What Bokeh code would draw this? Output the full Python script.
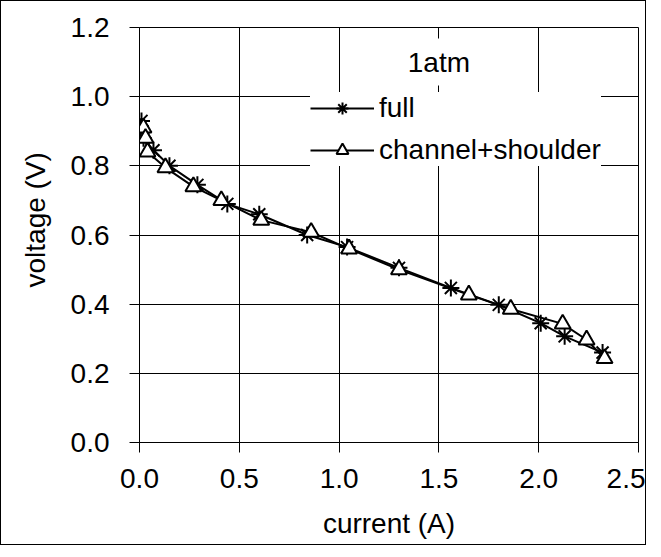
from bokeh.plotting import figure
from bokeh.models import Range1d, FixedTicker, PrintfTickFormatter, Label, Legend, Title
from bokeh.embed import file_html
from bokeh.resources import INLINE

# ---- data ----
full_current = [0.01, 0.015, 0.02, 0.07, 0.15, 0.29, 0.44, 0.60, 0.84, 1.04, 1.30, 1.56, 1.80, 2.01, 2.13, 2.32]
full_voltage = [0.93, 0.90, 0.88, 0.845, 0.80, 0.745, 0.69, 0.66, 0.60, 0.565, 0.505, 0.447, 0.398, 0.345, 0.307, 0.26]

cs_current = [0.02, 0.03, 0.04, 0.13, 0.27, 0.41, 0.61, 0.86, 1.05, 1.30, 1.65, 1.86, 2.12, 2.24, 2.33]
cs_voltage = [0.91, 0.88, 0.84, 0.795, 0.74, 0.70, 0.643, 0.608, 0.56, 0.50, 0.427, 0.386, 0.343, 0.297, 0.243]

x_ticks = [0.0, 0.5, 1.0, 1.5, 2.0, 2.5]
y_ticks = [0.0, 0.2, 0.4, 0.6, 0.8, 1.0, 1.2]

FONT = "Liberation Sans"
FS = "28px"

p = figure(width=646, height=545, output_backend="svg", toolbar_location=None,
           x_range=Range1d(0, 2.5), y_range=Range1d(0, 1.2),
           min_border_left=138, min_border_right=9, min_border_top=26, min_border_bottom=104)
p.styles = {"border": "1px solid black"}
p.outline_line_color = "black"
p.outline_line_width = 1
p.background_fill_color = "white"
p.border_fill_color = "white"

for ax, ticks in ((p.xaxis, x_ticks), (p.yaxis, y_ticks)):
    ax.ticker = FixedTicker(ticks=ticks)
    ax.formatter = PrintfTickFormatter(format="%.1f")
    ax.major_label_text_font = FONT
    ax.major_label_text_font_size = FS
    ax.major_label_text_color = "black"
    ax.major_tick_out = 10
    ax.major_tick_in = 0
    ax.minor_tick_out = 0
    ax.minor_tick_in = 0
    ax.axis_line_color = "black"
    ax.major_tick_line_color = "black"

p.yaxis.major_label_standoff = 20
p.xaxis.major_label_standoff = 16
p.xaxis.axis_label = "current (A)"
p.xaxis.axis_label_text_font = FONT
p.xaxis.axis_label_text_font_size = FS
p.xaxis.axis_label_text_font_style = "normal"
p.xaxis.axis_label_text_color = "black"
p.xaxis.axis_label_standoff = 17

p.grid.grid_line_color = "black"
p.grid.grid_line_width = 1

# y-axis title, placed as a side title so it can sit slightly above centre
p.add_layout(Title(text="voltage (V)", align="left", offset=155, standoff=33,
                   text_font=FONT, text_font_size=FS, text_font_style="normal",
                   text_color="black"), "left")

l1 = p.line(full_current, full_voltage, line_color="black", line_width=2)
s1 = p.scatter(full_current, full_voltage, marker="asterisk", size=17,
               line_color="black", line_width=2)
l2 = p.line(cs_current, cs_voltage, line_color="black", line_width=2)
s2 = p.scatter(cs_current, cs_voltage, marker="triangle", size=16,
               line_color="black", fill_color="white", line_width=2)

legend = Legend(items=[("full", [l1, s1]), ("channel+shoulder", [l2, s2])],
                location=(171, 276))
legend.label_text_font = FONT
legend.label_text_font_size = FS
legend.label_text_color = "black"
legend.glyph_width = 64
legend.glyph_height = 30
legend.label_height = 30
legend.spacing = 10
legend.padding = 10
legend.margin = 0
legend.label_standoff = 5
legend.border_line_color = None
legend.background_fill_color = "white"
legend.background_fill_alpha = 1
p.add_layout(legend, "center")

p.add_layout(Label(x=1.5, y=1.10, text="1atm", text_align="center", text_baseline="middle",
                   text_font=FONT, text_font_size=FS, text_color="black",
                   background_fill_color="white", background_fill_alpha=1, padding=8))

open("out.html", "w").write(file_html(p, INLINE))
